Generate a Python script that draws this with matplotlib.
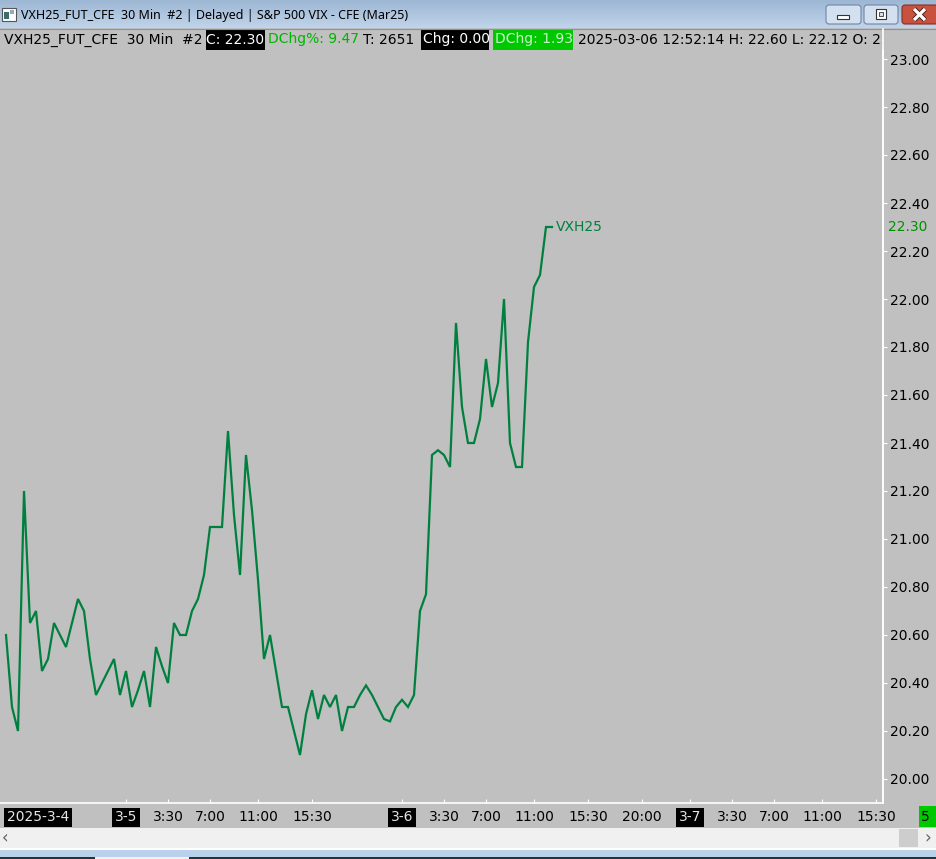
import numpy as np
import pandas as pd
import matplotlib
matplotlib.use("Agg")
import matplotlib.pyplot as plt
from matplotlib.patches import Rectangle, FancyBboxPatch
from matplotlib.transforms import blended_transform_factory

plt.rcParams['font.family'] = ['DejaVu Sans']

# ---------------- data ----------------
symbol = "VXH25"
window_title = "VXH25_FUT_CFE  30 Min  #2 | Delayed | S&P 500 VIX - CFE (Mar25)"
hdr_texts = ["VXH25_FUT_CFE  30 Min  #2", "C: 22.30", "DChg%: 9.47", "T: 2651",
             "Chg: 0.00", "DChg: 1.93",
             "2025-03-06 12:52:14 H: 22.60 L: 22.12 O: 22.13"]

session_starts = ["2025-03-04 13:00", "2025-03-04 17:00", "2025-03-05 17:00"]
session_ends = ["2025-03-04 15:30", "2025-03-05 15:30", "2025-03-06 12:30"]
future_start, future_end = "2025-03-06 13:00", "2025-03-07 16:00"

closes = [20.60, 20.30, 20.20, 21.20, 20.65, 20.70, 20.45, 20.50, 20.65, 20.60,
          20.55, 20.65, 20.75, 20.70, 20.50, 20.35, 20.40, 20.45, 20.50, 20.35,
          20.45, 20.30, 20.37, 20.45, 20.30, 20.55, 20.47, 20.40, 20.65, 20.60,
          20.60, 20.70, 20.75, 20.85, 21.05, 21.05, 21.05, 21.45, 21.10, 20.85,
          21.35, 21.12, 20.83, 20.50, 20.60, 20.45, 20.30, 20.30, 20.20, 20.10,
          20.27, 20.37, 20.25, 20.35, 20.30, 20.35, 20.20, 20.30, 20.30, 20.35,
          20.39, 20.35, 20.30, 20.25, 20.24, 20.30, 20.33, 20.30, 20.35, 20.70,
          20.77, 21.35, 21.37, 21.35, 21.30, 21.90, 21.55, 21.40, 21.40, 21.50,
          21.75, 21.55, 21.65, 22.00, 21.40, 21.30, 21.30, 21.82, 22.05, 22.10,
          22.30, 22.30]

y_ticks = [20.0, 20.2, 20.4, 20.6, 20.8, 21.0, 21.2, 21.4, 21.6, 21.8,
           22.0, 22.2, 22.4, 22.6, 22.8, 23.0]
last_label = "22.30"

first_date_label = "2025-3-4"
tick_times = ["2025-03-05 00:00", "2025-03-05 03:30", "2025-03-05 07:00",
              "2025-03-05 11:00", "2025-03-05 15:30", "2025-03-06 00:00",
              "2025-03-06 03:30", "2025-03-06 07:00", "2025-03-06 11:00",
              "2025-03-06 15:30", "2025-03-06 20:00", "2025-03-07 00:00",
              "2025-03-07 03:30", "2025-03-07 07:00", "2025-03-07 11:00",
              "2025-03-07 15:30"]
tick_labels = ["3-5", "3:30", "7:00", "11:00", "15:30", "3-6", "3:30", "7:00",
               "11:00", "15:30", "20:00", "3-7", "3:30", "7:00", "11:00", "15:30"]

# ---------------- bar time axis ----------------
bars = []
for s, e in zip(session_starts, session_ends):
    bars += list(pd.date_range(s, e, freq="30min"))
bars += list(pd.date_range(future_start, future_end, freq="30min"))
bars = pd.DatetimeIndex(bars)
tick_pos = [bars.get_loc(pd.Timestamp(t)) for t in tick_times]
x_idx = np.arange(len(closes))

# ---------------- figure ----------------
W, H = 936, 859
BG = '#C0C0C0'
fig = plt.figure(figsize=(W / 100, H / 100), dpi=100)
fig.patch.set_facecolor(BG)


def frac(x0, y0, x1, y1):
    return [x0 / W, 1 - y1 / H, (x1 - x0) / W, (y1 - y0) / H]


PX_R, PX_T, PX_B = 883, 50, 803
BAR_PX = 6.0
PX_PER_UNIT = 240.0
TOP_VAL_PX = 59  # pixel row of 23.00

ax = fig.add_axes(frac(0, PX_T, PX_R, PX_B))
ax.set_facecolor(BG)
ax.set_xlim(-1, -1 + PX_R / BAR_PX)
ax.set_ylim(23.0 - (PX_B - TOP_VAL_PX) / PX_PER_UNIT,
            23.0 + (TOP_VAL_PX - PX_T) / PX_PER_UNIT)

line_color = '#00803F'
ax.plot(x_idx, closes, color=line_color, lw=1.6, solid_joinstyle='miter', zorder=3)
ax.text(x_idx[-1] + 0.7, closes[-1], symbol, color=line_color, fontsize=10,
        va='center', ha='left')

for side in ['top', 'left']:
    ax.spines[side].set_visible(False)
ax.spines['bottom'].set_color('white')
ax.spines['right'].set_color('white')
ax.spines['bottom'].set_linewidth(1.2)
ax.spines['right'].set_linewidth(1.2)

ax.yaxis.tick_right()
ax.set_yticks(y_ticks)
ax.set_yticklabels([f"{v:.2f}" for v in y_ticks])
ax.tick_params(axis='y', direction='out', length=3, color='white',
               labelcolor='black', labelsize=10, pad=2)
ax.text(1 + 5 / PX_R, closes[-1], last_label, color='#009000', fontsize=10,
        va='center', ha='left',
        transform=blended_transform_factory(ax.transAxes, ax.transData))

ax.set_xticks(tick_pos)
ax.set_xticklabels([])
ax.tick_params(axis='x', direction='in', length=3, color='white')

tr = blended_transform_factory(ax.transData, ax.transAxes)
ylab = -14 / (PX_B - PX_T)
for p, lab in zip(tick_pos, tick_labels):
    if '-' in lab:
        ax.text(p, ylab, lab, transform=tr, ha='center', va='center', fontsize=10,
                color='#E6E6E6', clip_on=False,
                bbox=dict(boxstyle='square,pad=0.18', fc='black', ec='none'))
    else:
        ax.text(p, ylab, lab, transform=tr, ha='center', va='center', fontsize=10,
                color='black', clip_on=False)
ax.text(7 / PX_R, ylab, first_date_label, transform=ax.transAxes, ha='left',
        va='center', fontsize=10, color='#E6E6E6', clip_on=False,
        bbox=dict(boxstyle='square,pad=0.18', fc='black', ec='none'))

# ---------------- header row ----------------
hdr = fig.add_axes(frac(0, 29, 882, 50))
hdr.set_xlim(0, 882)
hdr.set_ylim(50, 29)
hdr.axis('off')
hy = 39.5
hdr.add_patch(Rectangle((206, 29), 59, 21, fc='black', ec='none'))
hdr.add_patch(Rectangle((421, 29), 68, 21, fc='black', ec='none'))
hdr.add_patch(Rectangle((493, 29), 80, 21, fc='#00C800', ec='none'))
hdr_x = [4, 206.5, 268, 363, 423, 495, 578]
hdr_col = ['black', 'white', '#00B400', 'black', 'white', '#C8F5C8', 'black']
for x, t, c in zip(hdr_x, hdr_texts, hdr_col):
    hdr.text(x, hy, t, color=c, fontsize=10, va='center', ha='left', clip_on=True)

# ---------------- window chrome overlay ----------------
ov = fig.add_axes([0, 0, 1, 1])
ov.set_zorder(10)
ov.patch.set_alpha(0)
ov.axis('off')

# title bar gradient
c0 = np.array(matplotlib.colors.to_rgb('#9DB7D4'))
c1 = np.array(matplotlib.colors.to_rgb('#C0D4EA'))
tgrad = np.linspace(0, 1, 28)[:, None, None]
grad = c0 * (1 - tgrad) + c1 * tgrad
grad = np.repeat(grad, 2, axis=1)
ov.imshow(grad, extent=(0, W, 28, 0), aspect='auto', interpolation='bilinear')
ov.plot([0, W], [28.5, 28.5], color='#8094AC', lw=0.8)
ov.text(21, 15, window_title, fontsize=9.0, family=['Noto Sans', 'DejaVu Sans'],
        color='black', va='center', ha='left')
# icon
ov.add_patch(Rectangle((2, 8), 14, 13, fc='white', ec='#555555', lw=0.8))
ov.add_patch(Rectangle((4, 12), 5, 7, fc='#3A6F6A', ec='none'))
ov.add_patch(Rectangle((10, 10), 4, 4, fc='#9AA7B5', ec='none'))
# buttons
for x0, x1 in [(826, 861), (864, 898)]:
    ov.add_patch(FancyBboxPatch((x0, 5), x1 - x0, 19, boxstyle='round,pad=0,rounding_size=3',
                                fc='#D3E0EF', ec='#6F86A3', lw=0.8))
ov.add_patch(FancyBboxPatch((902, 5), 36, 19, boxstyle='round,pad=0,rounding_size=3',
                            fc='#C9513F', ec='#8A2E22', lw=0.8))
ov.add_patch(Rectangle((837, 15), 12, 4, fc='white', ec='#333333', lw=0.8))
ov.add_patch(Rectangle((876, 9), 10, 10, fc='white', ec='#333333', lw=0.8))
ov.add_patch(Rectangle((879, 12), 4, 4, fc='#D3E0EF', ec='#333333', lw=0.6))
ov.plot([914, 925], [9, 20], color='#3A1510', lw=3.6, solid_capstyle='butt')
ov.plot([914, 925], [20, 9], color='#3A1510', lw=3.6, solid_capstyle='butt')
ov.plot([914, 925], [9, 20], color='white', lw=2.4, solid_capstyle='butt')
ov.plot([914, 925], [20, 9], color='white', lw=2.4, solid_capstyle='butt')

# right axis separator extension into header row
ov.plot([883, 883], [28.5, 803], color='white', lw=1.2)

# green box bottom-right
ov.add_patch(Rectangle((919, 806), 17, 21, fc='#00C800', ec='none'))
ov.text(921, 817, "5", fontsize=10, color='black', va='center', ha='left')

# scrollbar
ov.add_patch(Rectangle((0, 828), W, 20, fc='#F0F0F0', ec='none'))
ov.add_patch(Rectangle((899, 829), 19, 18, fc='#CDCDCD', ec='none'))
ov.text(5, 838, "‹", fontsize=12, color='#606060', va='center', ha='center')
ov.text(928, 838, "›", fontsize=12, color='#606060', va='center', ha='center')
ov.add_patch(Rectangle((0, 848), W, 1.5, fc='white', ec='none'))
ov.add_patch(Rectangle((0, 849.5), W, 7, fc='#B9D1EA', ec='none'))
ov.add_patch(Rectangle((0, 856.5), W, 2.5, fc='#22333A', ec='none'))
ov.add_patch(Rectangle((95, 856.5), 94, 2.5, fc='#F0F0F0', ec='none'))

ov.set_xlim(0, W)
ov.set_ylim(H, 0)

fig.savefig("out.png", dpi=100, facecolor=fig.get_facecolor())
